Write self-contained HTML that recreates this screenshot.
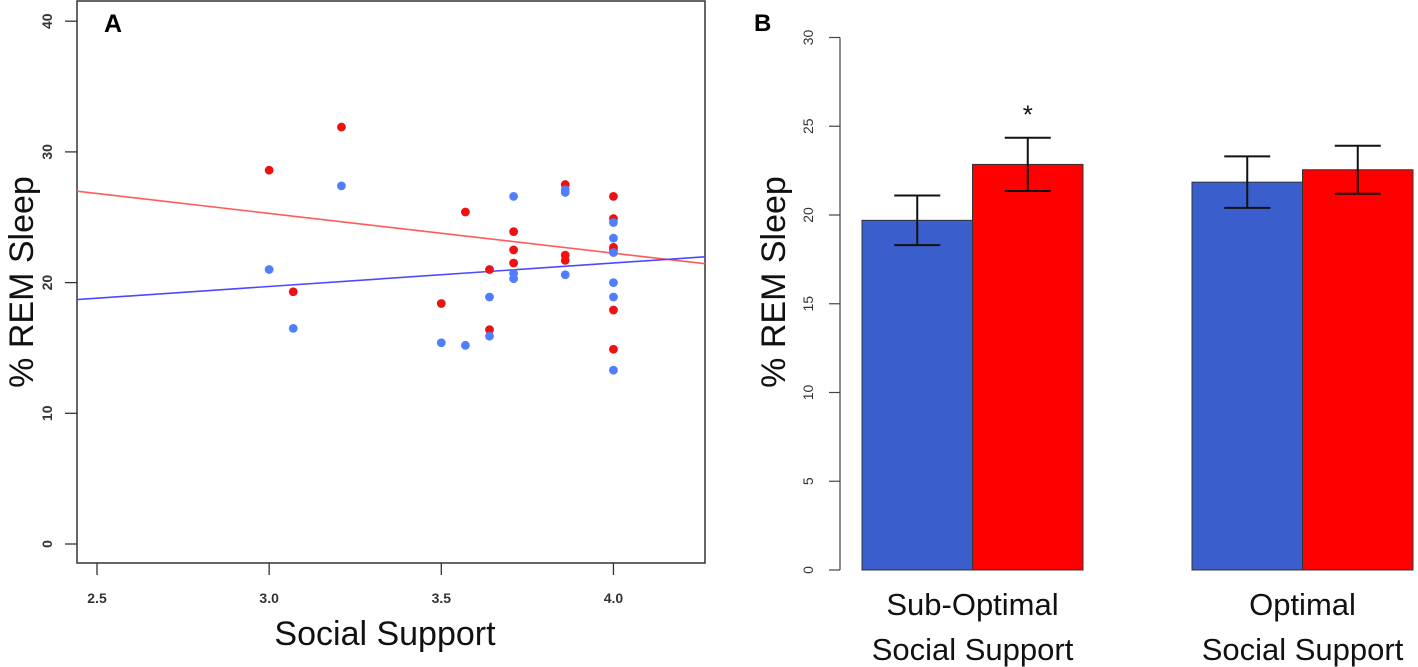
<!DOCTYPE html>
<html><head><meta charset="utf-8"><style>
body{margin:0;background:#fff;}
svg{display:block;font-family:"Liberation Sans",Arial,sans-serif;}
</style></head><body>
<svg id="chart" width="1418" height="667" viewBox="0 0 1418 667">
<defs><clipPath id="clipA"><rect x="77" y="1" width="628" height="562"/></clipPath></defs>
<g id="pa"></g>
<g id="pb"></g>
</svg>
<script>
// Panel A data
const redX=[3.0,3.07,3.21,3.5,3.57,3.64,3.64,3.71,3.71,3.71,3.86,3.86,3.86,4.0,4.0,4.0,4.0,4.0,4.0];
const redY=[28.6,19.3,31.9,18.4,25.4,21.0,16.4,23.9,22.5,21.5,27.5,22.1,21.7,26.6,24.9,22.7,22.5,17.9,14.9];
const blueX=[3.0,3.07,3.21,3.5,3.57,3.64,3.64,3.71,3.71,3.71,3.86,3.86,3.86,4.0,4.0,4.0,4.0,4.0,4.0];
const blueY=[21.0,16.5,27.4,15.4,15.2,18.9,15.9,26.6,20.7,20.3,27.1,26.9,20.6,24.6,23.4,22.3,20.0,18.9,13.3];
const redFit=[27.0,21.4];   // y at x=2.44 and x=4.28
const blueFit=[18.7,22.0];
const fitX=[2.44,4.28];
const xTicksA=[2.5,3.0,3.5,4.0];
const yTicksA=[0,10,20,30,40];
// Panel B data
const groups=["Sub-Optimal|Social Support","Optimal|Social Support"];
const blueMeans=[19.7,21.85];
const redMeans=[22.85,22.55];
const blueErr=[1.4,1.45];
const redErr=[1.5,1.35];
const yTicksB=[0,5,10,15,20,25,30];

const NS="http://www.w3.org/2000/svg";
function mk(tag,attrs,parent,text){const e=document.createElementNS(NS,tag);for(const k in attrs)e.setAttribute(k,attrs[k]);if(text!==undefined)e.textContent=text;parent.appendChild(e);return e;}
const pa=document.getElementById('pa'),pb=document.getElementById('pb');

// Panel A
const xA=v=>97+(v-2.5)*344.3, yA=v=>544-v*13.07;
let e=mk('rect',{x:77,y:1,width:628,height:562,fill:'none',stroke:'#333','stroke-width':1.5},pa);

xTicksA.forEach(t=>{
 let l=mk('line',{x1:xA(t),x2:xA(t),y1:563,y2:575,stroke:'#333','stroke-width':1.3},pa);
 
 let s=mk('text',{x:xA(t),y:603,'font-size':14,'font-weight':'bold','text-anchor':'middle',fill:'#333'},pa,t.toFixed(1));
 
});
yTicksA.forEach(t=>{
 let l=mk('line',{x1:65,x2:77,y1:yA(t),y2:yA(t),stroke:'#333','stroke-width':1.3},pa);
 
 let s=mk('text',{x:0,y:0,'font-size':14,'font-weight':'bold','text-anchor':'middle',fill:'#333',transform:`translate(52,${yA(t)}) rotate(-90)`},pa,String(t));
 
});
const lines=mk('g',{'clip-path':'url(#clipA)'},pa);

function fit(vals,color,name){let l=mk('line',{x1:xA(fitX[0]),y1:yA(vals[0]),x2:xA(fitX[1]),y2:yA(vals[1]),stroke:color,'stroke-width':1.6},lines);
 }
fit(redFit,'#ff5a5a','red-fit-line');fit(blueFit,'#4a4aff','blue-fit-line');
redX.forEach((x,i)=>{let c=mk('circle',{cx:xA(x),cy:yA(redY[i]),r:4.4,fill:'#ee1111'},pa);
 });
blueX.forEach((x,i)=>{let c=mk('circle',{cx:xA(x),cy:yA(blueY[i]),r:4.4,fill:'#4f7fff'},pa);
 });
e=mk('text',{x:104,y:32,'font-size':25,'font-weight':'bold',fill:'#000'},pa,'A');

e=mk('text',{x:0,y:0,'font-size':34,'text-anchor':'middle',fill:'#111',transform:'translate(33,282) rotate(-90)'},pa,'% REM Sleep');

e=mk('text',{x:385,y:645,'font-size':34,'text-anchor':'middle',fill:'#111'},pa,'Social Support');


// Panel B
const yB=v=>570-v*17.75;
e=mk('line',{x1:840,x2:840,y1:yB(30),y2:yB(0),stroke:'#444','stroke-width':1.2},pb);

yTicksB.forEach(t=>{
 let l=mk('line',{x1:829,x2:840,y1:yB(t),y2:yB(t),stroke:'#444','stroke-width':1.2},pb);
 
 let s=mk('text',{x:0,y:0,'font-size':14,'text-anchor':'middle',fill:'#333',transform:`translate(813,${yB(t)}) rotate(-90)`},pb,String(t));
 
});
const gx=[862,1192], bw=110.5;
groups.forEach((g,i)=>{
 [[blueMeans,blueErr,'#3a5fcd','blue-bar',0],[redMeans,redErr,'#ff0000','red-bar',1]].forEach(([m,er,col,nm,k])=>{
  const x=gx[i]+k*bw;
  let r=mk('rect',{x:x,y:yB(m[i]),width:bw,height:yB(0)-yB(m[i]),fill:col,stroke:'#333','stroke-width':1},pb);
  
  const cx=x+bw/2;
  let eg=mk('g',{stroke:'#111','stroke-width':2},pb);
  
  mk('line',{x1:cx,x2:cx,y1:yB(m[i]+er[i]),y2:yB(m[i]-er[i])},eg);
  mk('line',{x1:cx-23,x2:cx+23,y1:yB(m[i]+er[i]),y2:yB(m[i]+er[i])},eg);
  mk('line',{x1:cx-23,x2:cx+23,y1:yB(m[i]-er[i]),y2:yB(m[i]-er[i])},eg);
 });
 const parts=g.split('|');const cx=gx[i]+bw;
 let t=mk('text',{x:cx,y:615,'font-size':31,'text-anchor':'middle',fill:'#111'},pb,parts[0]);
 
 t=mk('text',{x:cx,y:660,'font-size':31,'text-anchor':'middle',fill:'#111'},pb,parts[1]);
 
});
e=mk('text',{x:gx[0]+bw*1.5,y:yB(redMeans[0]+redErr[0]+1.6)+14,'font-size':26,'text-anchor':'middle',fill:'#111'},pb,'*');

e=mk('text',{x:754,y:31,'font-size':24,'font-weight':'bold',fill:'#000'},pb,'B');

e=mk('text',{x:0,y:0,'font-size':34,'text-anchor':'middle',fill:'#111',transform:'translate(785,282) rotate(-90)'},pb,'% REM Sleep');

</script>
</body></html>
